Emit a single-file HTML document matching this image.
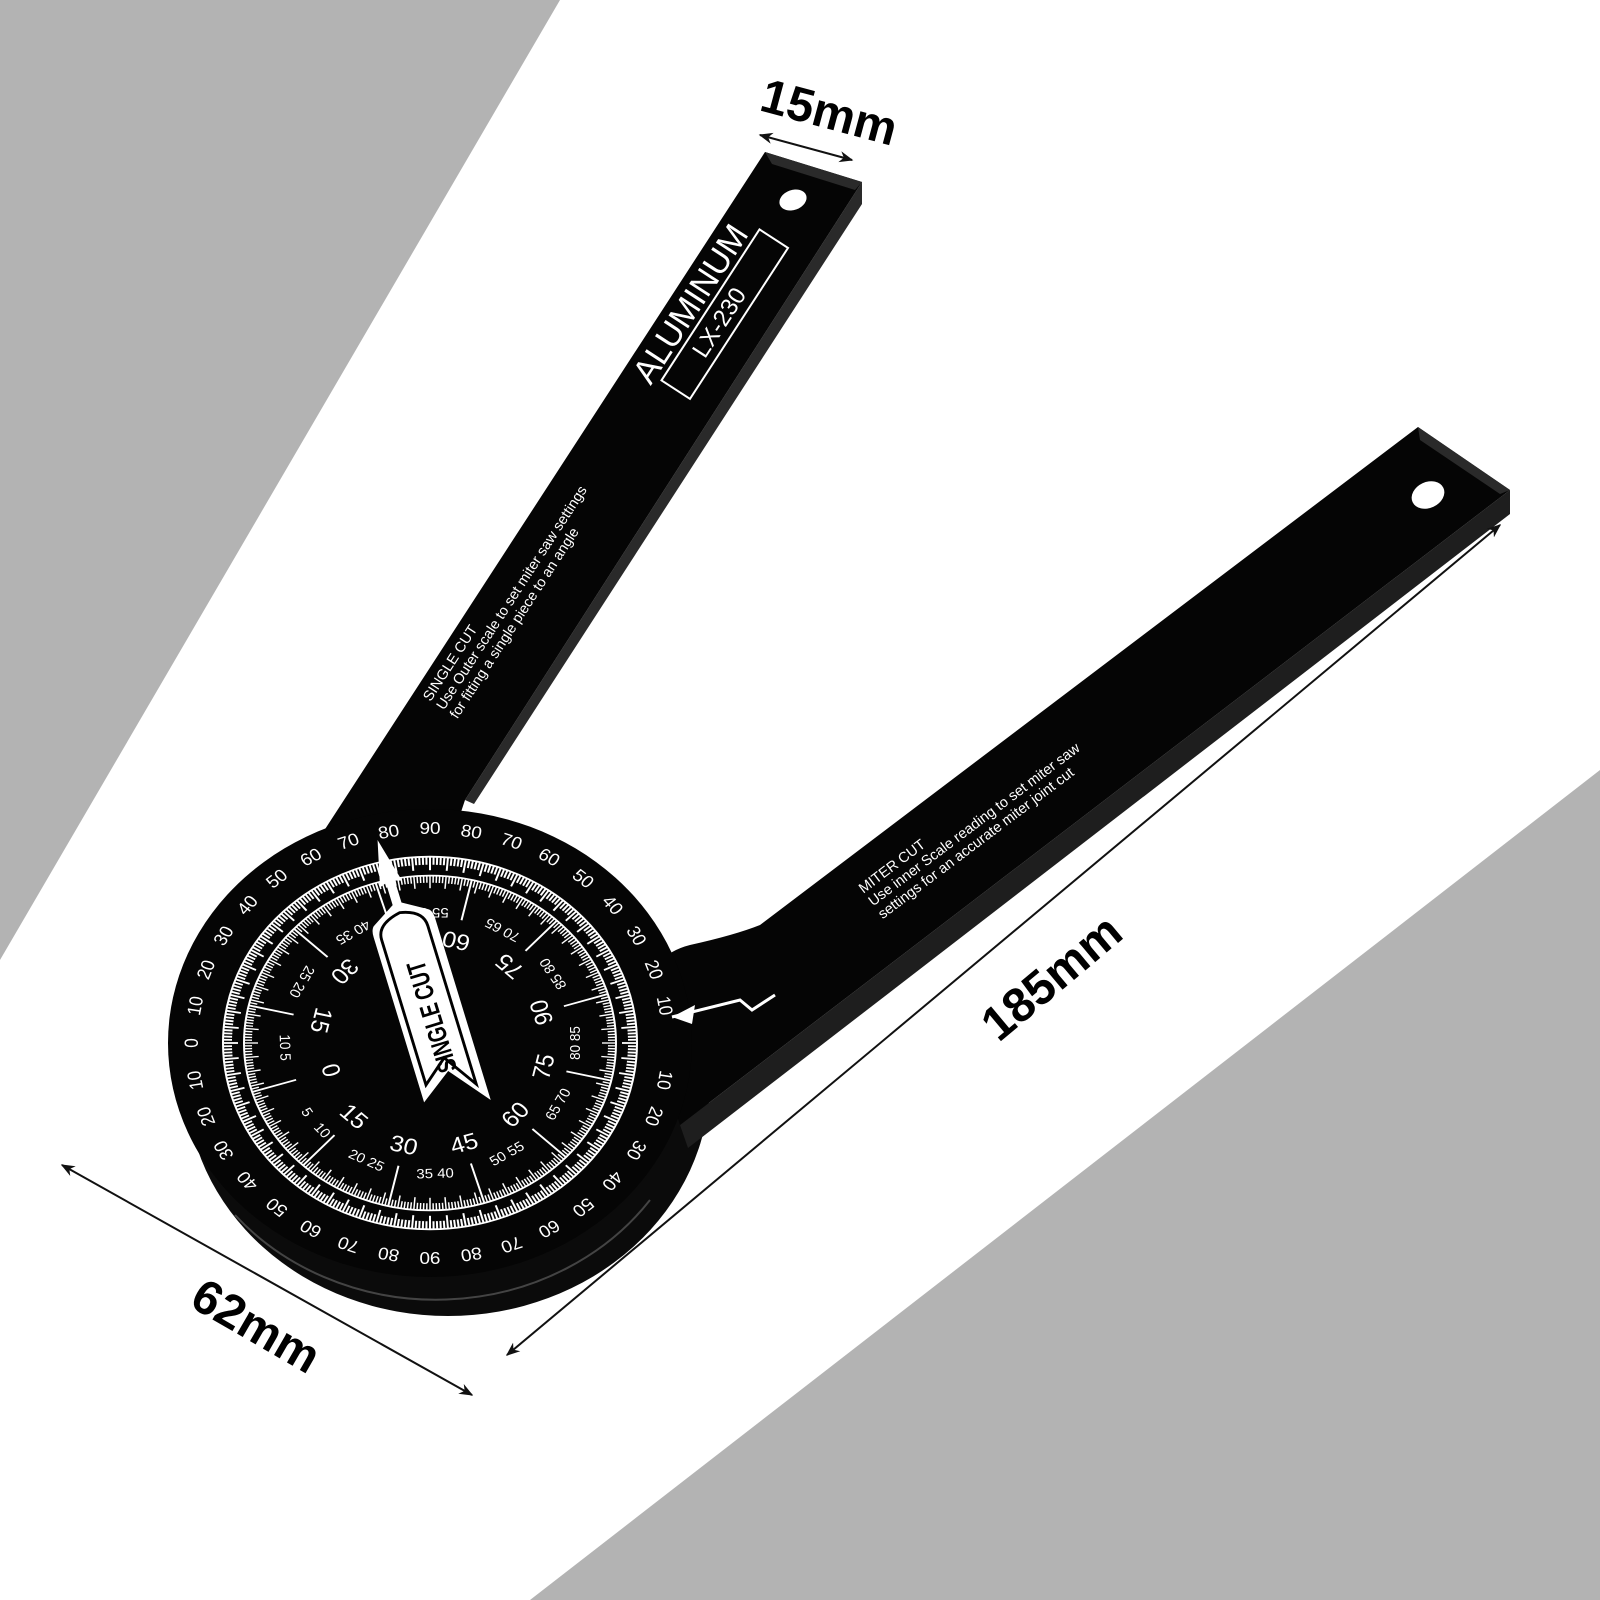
<!DOCTYPE html>
<html><head><meta charset="utf-8"><style>
html,body{margin:0;padding:0;background:#fff}
svg{display:block}
text{font-family:"Liberation Sans",sans-serif}
</style></head><body>
<svg id="s" width="1600" height="1600" viewBox="0 0 1600 1600" xmlns="http://www.w3.org/2000/svg">
<defs>
<marker id="ah" viewBox="0 0 10 10" refX="9" refY="5" markerWidth="7" markerHeight="7" orient="auto-start-reverse"><path d="M0,1 L10,5 L0,9 L3,5 z" fill="#111"/></marker>
</defs>
<rect width="1600" height="1600" fill="#b3b3b3"/>
<polygon points="560,0 1600,0 1600,770 530,1600 0,1600 0,960" fill="#fff"/>

<ellipse cx="448" cy="1080" rx="262" ry="236" fill="#0b0b0b"/>
<path d="M235,1215 A262,236 0 0 0 650,1200" fill="none" stroke="#444" stroke-width="2"/>

<polygon points="862,182 862,204 474,804 465,800" fill="#2a2a2a"/>
<polygon points="765,152 862,182 465,800 455,830 295,890 305,860" fill="#050505"/>
<polygon points="765,152 862,182 855,190 772,164" fill="#2a2a2a"/>
<ellipse cx="793" cy="200" rx="14" ry="10" fill="#fff" transform="rotate(-20 793 200)"/>

<polygon points="1510,490 1510,514 688,1148 680,1125" fill="#1e1e1e"/>
<path d="M1418,427 L1510,490 L680,1125 L640,1000 Q650,955 690,945 Q735,935 760,925 Z" fill="#050505"/>
<polygon points="1418,427 1510,490 1500,494 1420,440" fill="#2a2a2a"/>
<ellipse cx="1428" cy="495" rx="17" ry="13" fill="#fff" transform="rotate(-25 1428 495)"/>

<ellipse cx="430" cy="1043" rx="262" ry="234" fill="#050505"/>
<g transform="translate(430,1043) scale(1,0.9)" fill="#fff" stroke="none">
<g id="ticks" stroke="#fff" stroke-width="2"></g>
<circle r="207" fill="none" stroke="#fff" stroke-width="2"/>
<circle r="186" fill="none" stroke="#fff" stroke-width="2"/>
<g font-size="19" text-anchor="middle">
<text transform="rotate(0) translate(0,-232)">90</text>
<text transform="rotate(10) translate(0,-232)">80</text>
<text transform="rotate(20) translate(0,-232)">70</text>
<text transform="rotate(30) translate(0,-232)">60</text>
<text transform="rotate(40) translate(0,-232)">50</text>
<text transform="rotate(50) translate(0,-232)">40</text>
<text transform="rotate(60) translate(0,-232)">30</text>
<text transform="rotate(70) translate(0,-232)">20</text>
<text transform="rotate(80) translate(0,-232)">10</text>
<text transform="rotate(100) translate(0,-232)">10</text>
<text transform="rotate(110) translate(0,-232)">20</text>
<text transform="rotate(120) translate(0,-232)">30</text>
<text transform="rotate(130) translate(0,-232)">40</text>
<text transform="rotate(140) translate(0,-232)">50</text>
<text transform="rotate(150) translate(0,-232)">60</text>
<text transform="rotate(160) translate(0,-232)">70</text>
<text transform="rotate(170) translate(0,-232)">80</text>
<text transform="rotate(180) translate(0,-232)">90</text>
<text transform="rotate(190) translate(0,-232)">80</text>
<text transform="rotate(200) translate(0,-232)">70</text>
<text transform="rotate(210) translate(0,-232)">60</text>
<text transform="rotate(220) translate(0,-232)">50</text>
<text transform="rotate(230) translate(0,-232)">40</text>
<text transform="rotate(240) translate(0,-232)">30</text>
<text transform="rotate(250) translate(0,-232)">20</text>
<text transform="rotate(260) translate(0,-232)">10</text>
<text transform="rotate(270) translate(0,-232)">0</text>
<text transform="rotate(280) translate(0,-232)">10</text>
<text transform="rotate(290) translate(0,-232)">20</text>
<text transform="rotate(300) translate(0,-232)">30</text>
<text transform="rotate(310) translate(0,-232)">40</text>
<text transform="rotate(320) translate(0,-232)">50</text>
<text transform="rotate(330) translate(0,-232)">60</text>
<text transform="rotate(340) translate(0,-232)">70</text>
<text transform="rotate(350) translate(0,-232)">80</text>
</g>
<g font-size="25" text-anchor="middle">
<text transform="rotate(253) translate(0,-112) rotate(180)">0</text>
<text transform="rotate(283) translate(0,-120) rotate(180)">15</text>
<text transform="rotate(313) translate(0,-125) rotate(180)">30</text>
<text transform="rotate(13) translate(0,-125) rotate(180)">60</text>
<text transform="rotate(43) translate(0,-125) rotate(180)">75</text>
<text transform="rotate(73) translate(0,-125) rotate(180)">90</text>
<text transform="rotate(103) translate(0,-125) rotate(180)">75</text>
<text transform="rotate(133) translate(0,-125) rotate(180)">60</text>
<text transform="rotate(163) translate(0,-125) rotate(180)">45</text>
<text transform="rotate(193) translate(0,-125) rotate(180)">30</text>
<text transform="rotate(223) translate(0,-120) rotate(180)">15</text>
</g>
<g font-size="15" text-anchor="middle">
<text transform="rotate(238) translate(0,-150) rotate(180)">5</text>
<text transform="rotate(268) translate(0,-150) rotate(180)">10 5</text>
<text transform="rotate(298) translate(0,-150) rotate(180)">25 20</text>
<text transform="rotate(328) translate(0,-150) rotate(180)">40 35</text>
<text transform="rotate(0) translate(0,-150) rotate(180)">55 50</text>
<text transform="rotate(30) translate(0,-150) rotate(180)">70 65</text>
<text transform="rotate(58) translate(0,-150) rotate(180)">85 80</text>
<text transform="rotate(90) translate(0,-150) rotate(180)">80 85</text>
<text transform="rotate(118) translate(0,-150) rotate(180)">65 70</text>
<text transform="rotate(148) translate(0,-150) rotate(180)">50 55</text>
<text transform="rotate(178) translate(0,-150) rotate(180)">35 40</text>
<text transform="rotate(206) translate(0,-150) rotate(180)">20 25</text>
<text transform="rotate(228) translate(0,-150) rotate(180)">10</text>
</g>
</g>

<g transform="translate(428,1005) rotate(-17) scale(1.15)">
<path d="M0,-150 L-10,-110 L-4,-112 L-4,-92 L-24,-80 Q-28,-78 -28,-70 L-28,80 L0,60 L28,95 L28,-70 Q28,-78 24,-80 L4,-92 L4,-112 L10,-110 Z" fill="#fff"/>
<path d="M-22,-66 L-22,66 L0,48 L20,78 L20,-66 Q20,-80 0,-84 Q-22,-80 -22,-66 Z" fill="none" stroke="#000" stroke-width="2.5"/>
<text transform="rotate(-90) scale(0.72,1)" x="-15" y="8" font-size="23" font-weight="bold" text-anchor="middle" fill="#000">SINGLE CUT</text>
</g>

<polyline points="775,995 752,1010 740,1000 672,1017" fill="none" stroke="#fff" stroke-width="3"/>
<polygon points="672,1017 695,1005 692,1024" fill="#fff"/>

<g transform="translate(700,310) rotate(-57)" fill="#fff">
<text x="0" y="0" font-size="34" text-anchor="middle">ALUMINUM</text>
<rect x="-80" y="6" width="180" height="34" fill="none" stroke="#fff" stroke-width="2"/>
<text x="0" y="31" font-size="24" text-anchor="middle">LX-230</text>
</g>
<g transform="translate(500,628) rotate(-57)" fill="#fff" font-size="14.5">
<text x="-100" y="-18">SINGLE CUT</text>
<text x="-100" y="-2">Use Outer scale to set miter saw settings</text>
<text x="-100" y="14">for fitting a single piece to an angle</text>
</g>
<g transform="translate(962,842) rotate(-37)" fill="#fff" font-size="14.5">
<text x="-110" y="-18">MITER CUT</text>
<text x="-110" y="-2">Use inner Scale reading to set miter saw</text>
<text x="-110" y="14">settings for an accurate miter joint cut</text>
</g>

<line x1="760" y1="135" x2="852" y2="160" stroke="#111" stroke-width="2" marker-start="url(#ah)" marker-end="url(#ah)"/>
<text transform="translate(825,128) rotate(15)" font-size="48" font-weight="bold" text-anchor="middle" fill="#000">15mm</text>
<line x1="507" y1="1355" x2="1500" y2="525" stroke="#111" stroke-width="2" marker-start="url(#ah)" marker-end="url(#ah)"/>
<text transform="translate(1062,990) rotate(-40)" font-size="48" font-weight="bold" text-anchor="middle" fill="#000">185mm</text>
<line x1="62" y1="1165" x2="472" y2="1395" stroke="#111" stroke-width="2" marker-start="url(#ah)" marker-end="url(#ah)"/>
<text transform="translate(248,1340) rotate(30)" font-size="48" font-weight="bold" text-anchor="middle" fill="#000">62mm</text>
</svg>
<script>
var g=document.getElementById('ticks'),h='';
for(var a=0;a<360;a+=1){var r=a*Math.PI/180,s=Math.sin(r),c=-Math.cos(r);
var o1=207,o2=(a%5==0)?192:198;
h+='<line x1="'+(s*o1).toFixed(1)+'" y1="'+(c*o1).toFixed(1)+'" x2="'+(s*o2).toFixed(1)+'" y2="'+(c*o2).toFixed(1)+'"/>';
var i2=(a%5==0)?172:178;
h+='<line x1="'+(s*186).toFixed(1)+'" y1="'+(c*186).toFixed(1)+'" x2="'+(s*i2).toFixed(1)+'" y2="'+(c*i2).toFixed(1)+'" stroke-width="1.5"/>';}
for(var a=13;a<373;a+=30){var r=a*Math.PI/180,s=Math.sin(r),c=-Math.cos(r);
h+='<line x1="'+(s*186).toFixed(1)+'" y1="'+(c*186).toFixed(1)+'" x2="'+(s*140).toFixed(1)+'" y2="'+(c*140).toFixed(1)+'"/>';}
g.innerHTML=h;
</script>
</body></html>
